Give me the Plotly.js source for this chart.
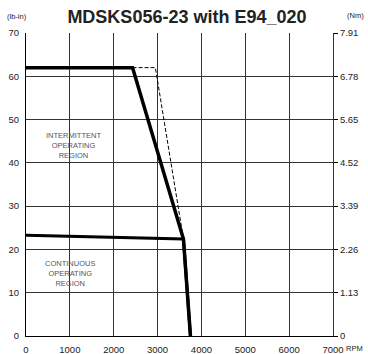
<!DOCTYPE html>
<html>
<head>
<meta charset="utf-8">
<script src="https://cdn.plot.ly/plotly-3.0.1.min.js"></script>
<style>html,body{margin:0;padding:0;background:#fff}#chart{width:368px;height:354px}</style>
</head>
<body>
<div id="chart"></div>
<script>
// Data (speed in RPM, torque in lb-in)
var contRpm = [0, 3590, 3750];
var contTorque = [23.3, 22.4, 0];
var intRpm = [0, 2430, 3590, 3750];
var intTorque = [62, 62, 22.4, 0];
var dashRpm = [2430, 2950, 3590];
var dashTorque = [62, 62, 22.4];
var xTicks = [0, 1000, 2000, 3000, 4000, 5000, 6000, 7000];
var yTicks = [0, 10, 20, 30, 40, 50, 60, 70];
var nmTicks = ['0', '1.13', '2.26', '3.39', '4.52', '5.65', '6.78', '7.91'];
var nmVals = [0, 1.13, 2.26, 3.39, 4.52, 5.65, 6.78, 7.91];

var font = 'Liberation Sans, Arial, sans-serif';
var traces = [
  {x: dashRpm, y: dashTorque, mode: 'lines', line: {color: '#000', width: 1, dash: '4px,2px'}, hoverinfo: 'none'},
  {x: contRpm, y: contTorque, mode: 'lines', line: {color: '#000', width: 3}, hoverinfo: 'none'},
  {x: intRpm, y: intTorque, mode: 'lines', line: {color: '#000', width: 3.5}, hoverinfo: 'none'},
  {x: [0], y: [0], yaxis: 'y2', mode: 'markers', marker: {opacity: 0}, hoverinfo: 'none'}
];
var layout = {
  width: 368, height: 354,
  margin: {l: 26, r: 35, t: 33, b: 18, pad: 0},
  paper_bgcolor: '#fff', plot_bgcolor: '#fff',
  showlegend: false,
  font: {family: font, size: 9.5, color: '#222'},
  title: {text: '<b>MDSKS056-23 with E94_020</b>', font: {family: font, size: 18, color: '#222'},
          x: 0.508, xanchor: 'center', y: 0.952, yanchor: 'middle', xref: 'container', yref: 'container'},
  xaxis: {range: [0, 7000], tickvals: xTicks, ticktext: xTicks.map(String), showgrid: true, gridcolor: '#333', gridwidth: 1,
          zeroline: false, showline: true, linecolor: '#000', linewidth: 1, ticks: 'outside', ticklen: 5, tickcolor: 'rgba(0,0,0,0)',
          tickfont: {size: 9.5, color: '#222'}, fixedrange: true},
  yaxis: {range: [0, 70], tickvals: yTicks, ticktext: yTicks.map(String), showgrid: true, gridcolor: '#333', gridwidth: 1,
          zeroline: false, showline: true, linecolor: '#000', linewidth: 1, ticks: 'outside', ticklen: 4, tickcolor: 'rgba(0,0,0,0)',
          tickfont: {size: 9.5, color: '#222'}, fixedrange: true},
  yaxis2: {range: [0, 7.91], overlaying: 'y', side: 'right', tickvals: nmVals, ticktext: nmTicks, showgrid: false,
           zeroline: false, showline: true, linecolor: '#333', linewidth: 1, ticks: 'outside', ticklen: 4, tickcolor: '#000',
           tickfont: {size: 9.5, color: '#222'}, fixedrange: true},
  annotations: [
    {text: 'INTERMITTENT<br>OPERATING<br>REGION', xref: 'x', yref: 'y', x: 1080, y: 44.0, showarrow: false,
     font: {family: font, size: 7.5, color: '#555'}, align: 'center'},
    {text: 'CONTINUOUS<br>OPERATING<br>REGION', xref: 'x', yref: 'y', x: 1000, y: 14.5, showarrow: false,
     font: {family: font, size: 7.5, color: '#555'}, align: 'center'},
    {text: '(lb-in)', xref: 'paper', yref: 'paper', x: 0, y: 1, xshift: -9, yshift: 17, showarrow: false,
     font: {family: font, size: 7.5, color: '#222'}, xanchor: 'center', yanchor: 'middle'},
    {text: '(Nm)', xref: 'paper', yref: 'paper', x: 1, y: 1, xshift: 22, yshift: 18, showarrow: false,
     font: {family: font, size: 7.5, color: '#222'}, xanchor: 'center', yanchor: 'middle'},
    {text: 'RPM', xref: 'paper', yref: 'paper', x: 1, y: 0, xshift: 11, yshift: -12, showarrow: false,
     font: {family: font, size: 7.5, color: '#222'}, xanchor: 'left', yanchor: 'middle'}
  ]
};
Plotly.newPlot('chart', traces, layout, {displayModeBar: false, staticPlot: true});
</script>
</body>
</html>
